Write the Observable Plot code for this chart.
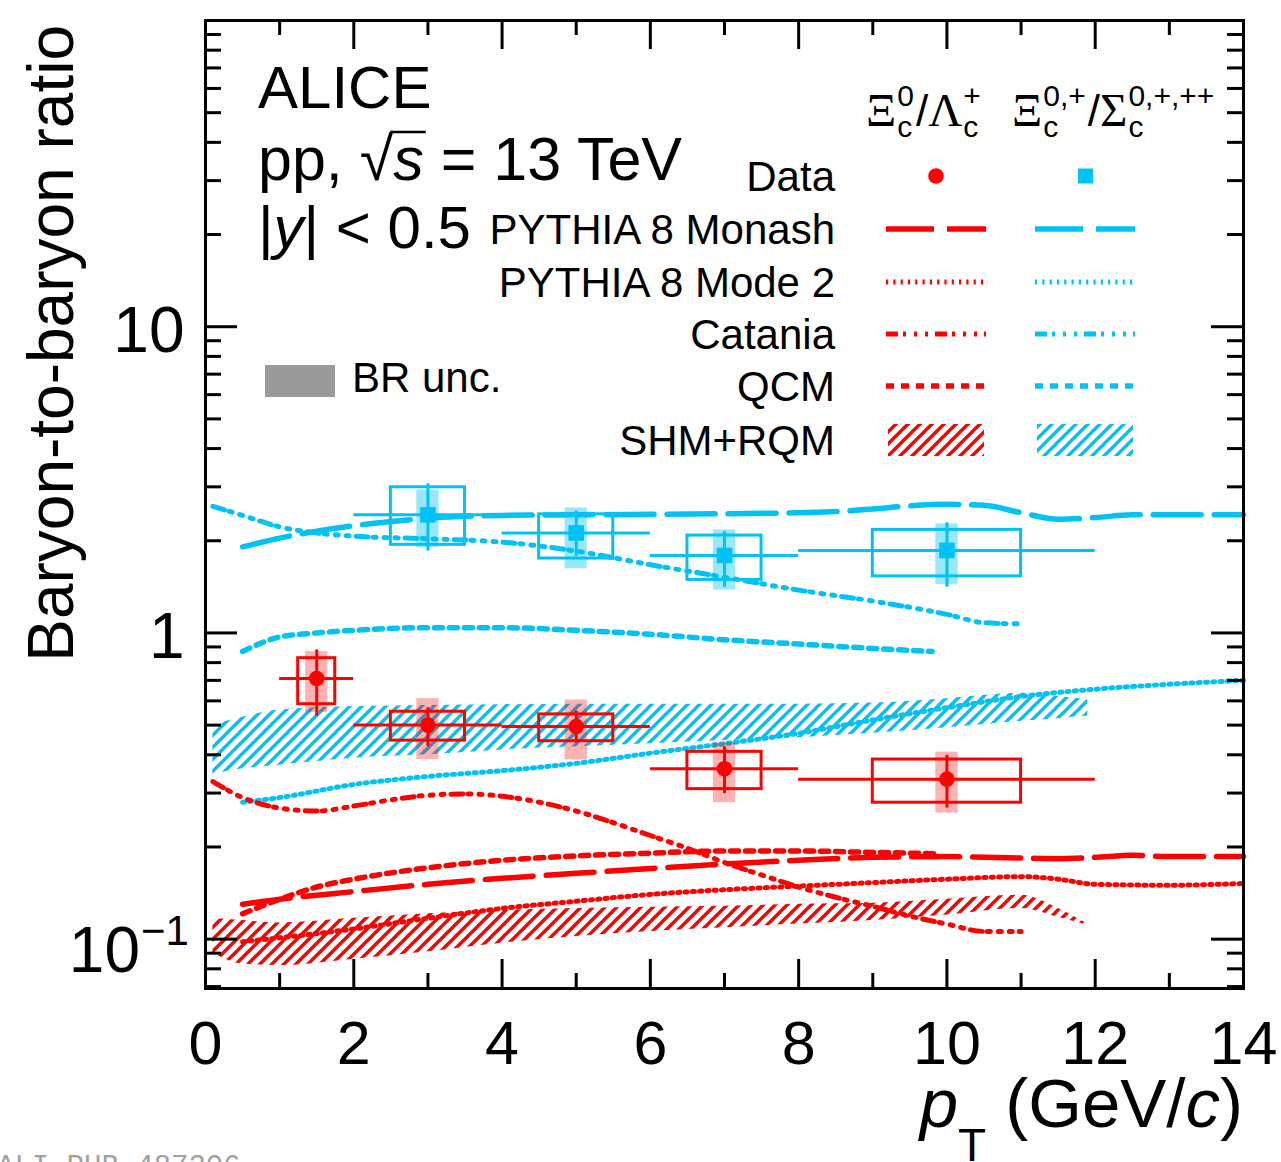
<!DOCTYPE html>
<html><head><meta charset="utf-8">
<script src="https://cdn.jsdelivr.net/npm/d3@7"></script>
<script src="https://cdn.jsdelivr.net/npm/@observablehq/plot@0.6"></script>
<style>html,body{margin:0;padding:0;background:#fff}svg{display:block}</style>
</head><body><div id="chart"></div>
<script>
// ---------- data: Xi_c^0 / Lambda_c^+ (red) ----------
const xiLcX = [1.5, 3, 5, 7, 10];
const xiLcBinLo = [1, 2, 4, 6, 8];
const xiLcBinHi = [2, 4, 6, 8, 12];
const xiLcY = [0.71, 0.50, 0.495, 0.36, 0.333];
const xiLcStatLo = [0.535, 0.425, 0.437, 0.299, 0.268];
const xiLcStatHi = [0.88, 0.57, 0.556, 0.425, 0.398];
const xiLcSysLo = [0.585, 0.445, 0.443, 0.309, 0.279];
const xiLcSysHi = [0.827, 0.553, 0.542, 0.409, 0.386];
const xiLcBrLo = [0.549, 0.386, 0.385, 0.279, 0.258];
const xiLcBrHi = [0.869, 0.610, 0.604, 0.437, 0.408];

// ---------- data: Xi_c^{0,+} / Sigma_c^{0,+,++} (blue) ----------
const xiScX = [3, 5, 7, 10];
const xiScBinLo = [2, 4, 6, 8];
const xiScBinHi = [4, 6, 8, 12];
const xiScY = [2.43, 2.12, 1.79, 1.86];
const xiScStatLo = [1.85, 1.78, 1.41, 1.41];
const xiScStatHi = [3.07, 2.50, 2.14, 2.29];
const xiScSysLo = [1.94, 1.75, 1.49, 1.53];
const xiScSysHi = [2.99, 2.44, 2.08, 2.17];
const xiScBrLo = [1.90, 1.62, 1.38, 1.44];
const xiScBrHi = [2.93, 2.56, 2.17, 2.27];

// ---------- models: red ----------
const lcMonashX = [0.5, 1, 2, 3, 4, 5, 6, 7, 8, 9, 10, 11, 11.5, 12, 12.5, 13, 14];
const lcMonashY = [0.130, 0.135, 0.143, 0.151, 0.158, 0.164, 0.170, 0.176, 0.181, 0.185, 0.186, 0.184, 0.183, 0.185, 0.188, 0.186, 0.186];
const lcMode2X = [0.5, 1, 2, 3, 4, 5, 6, 7, 8, 9, 10, 11, 11.5, 12, 13, 14];
const lcMode2Y = [0.098, 0.101, 0.108, 0.117, 0.126, 0.133, 0.140, 0.145, 0.149, 0.153, 0.157, 0.160, 0.157, 0.151, 0.150, 0.152];
const lcCataniaX = [0.1, 0.5, 1, 1.5, 2, 2.5, 3, 3.5, 4, 4.5, 5, 5.5, 6, 6.5, 7, 7.5, 8, 8.5, 9, 9.5, 10, 10.5, 11];
const lcCataniaY = [0.327, 0.29, 0.268, 0.262, 0.272, 0.285, 0.295, 0.298, 0.293, 0.28, 0.262, 0.24, 0.218, 0.198, 0.178, 0.162, 0.148, 0.137, 0.128, 0.119, 0.112, 0.106, 0.106];
const lcQcmX = [0.5, 1, 1.5, 2, 3, 4, 5, 6, 7, 8, 9, 9.9];
const lcQcmY = [0.121, 0.135, 0.148, 0.157, 0.171, 0.181, 0.187, 0.191, 0.194, 0.194, 0.192, 0.190];
const lcShmX = [0.1, 0.5, 1, 2, 3, 4, 5, 6, 7, 8, 9, 10, 11, 11.5, 11.9];
const lcShmLo = [0.090, 0.083, 0.082, 0.086, 0.091, 0.097, 0.102, 0.106, 0.109, 0.112, 0.115, 0.120, 0.126, 0.118, 0.111];
const lcShmHi = [0.117, 0.115, 0.113, 0.117, 0.121, 0.124, 0.126, 0.127, 0.128, 0.130, 0.131, 0.135, 0.139, 0.126, 0.112];

// ---------- models: blue ----------
const scMonashX = [0.5, 1, 1.5, 2, 2.5, 3, 4, 5, 6, 7, 8, 8.5, 9, 9.5, 10, 10.5, 11, 11.5, 12, 12.5, 13, 14];
const scMonashY = [1.91, 2.04, 2.15, 2.24, 2.31, 2.37, 2.42, 2.43, 2.44, 2.45, 2.47, 2.49, 2.54, 2.60, 2.63, 2.61, 2.47, 2.35, 2.38, 2.43, 2.43, 2.43];
const scMode2X = [0.5, 1, 2, 3, 4, 5, 6, 7, 8, 9, 10, 11, 12, 13, 14];
const scMode2Y = [0.28, 0.29, 0.32, 0.34, 0.355, 0.375, 0.405, 0.435, 0.47, 0.52, 0.57, 0.62, 0.655, 0.68, 0.70];
const scCataniaX = [0.1, 0.5, 1, 1.5, 2, 3, 4, 5, 6, 7, 8, 9, 10, 10.5, 11];
const scCataniaY = [2.59, 2.42, 2.22, 2.12, 2.07, 2.03, 1.98, 1.85, 1.67, 1.52, 1.38, 1.27, 1.15, 1.08, 1.07];
const scQcmX = [0.5, 1, 1.5, 2, 3, 4, 5, 6, 7, 8, 9, 9.8];
const scQcmY = [0.87, 0.97, 1.0, 1.02, 1.04, 1.04, 1.02, 0.99, 0.95, 0.92, 0.89, 0.87];
const scShmX = [0.1, 0.5, 1, 2, 3, 4, 5, 6, 7, 8, 9, 10, 11, 11.5, 11.9];
const scShmLo = [0.345, 0.36, 0.37, 0.39, 0.40, 0.415, 0.425, 0.435, 0.445, 0.455, 0.47, 0.49, 0.515, 0.525, 0.535];
const scShmHi = [0.50, 0.53, 0.56, 0.575, 0.58, 0.583, 0.585, 0.585, 0.585, 0.585, 0.59, 0.61, 0.635, 0.62, 0.605];

// ---------- axes ----------
const xMajorTicks = [0, 2, 4, 6, 8, 10, 12, 14];
const xMinorTicks = [1, 3, 5, 7, 9, 11, 13];
const yMajorTicks = [0.1, 1, 10, 100];
const yMinorTicks = [0.07, 0.08, 0.09, 0.2, 0.3, 0.4, 0.5, 0.6, 0.7, 0.8, 0.9, 2, 3, 4, 5, 6, 7, 8, 9, 20, 30, 40, 50, 60, 70, 80, 90];
const xTickLabels = ["0", "2", "4", "6", "8", "10", "12", "14"];

const legendRows = ["Data", "PYTHIA 8 Monash", "PYTHIA 8 Mode 2", "Catania", "QCM", "SHM+RQM"];

// ---------- styles ----------
const RED = "#ff0000", BLUE = "#00c2f5";
const FONT = "'Liberation Sans', Arial, Helvetica, sans-serif";
const W = 1281, H = 1162, ML = 205, MR = 38, MT = 20, MB = 174;
const PW = W - ML - MR, PH = H - MT - MB;
const dashes = {
  monash: {dash: "48 13", w: 5.5},
  mode2: {dash: "2.2 5.1", w: 5},
  catania: {dash: "12 5 3 8 3 8 3 7", w: 5},
  qcm: {dash: "8 7", w: 5.5}
};

function rows(xs, ys) { return xs.map((x, i) => ({x, y: ys[i]})); }
function band(xs, lo, hi) { return xs.map((x, i) => ({x, lo: lo[i], hi: hi[i]})); }
function pts(X, Y, bl, bh, sl, sh, tl, th, rl, rh) {
  return X.map((x, i) => ({x, y: Y[i], bl: bl[i], bh: bh[i], sl: sl[i], sh: sh[i], tl: tl[i], th: th[i], rl: rl[i], rh: rh[i], hw: (bh[i] - bl[i]) / 4}));
}
const lcPts = pts(xiLcX, xiLcY, xiLcBinLo, xiLcBinHi, xiLcStatLo, xiLcStatHi, xiLcSysLo, xiLcSysHi, xiLcBrLo, xiLcBrHi);
const scPts = pts(xiScX, xiScY, xiScBinLo, xiScBinHi, xiScStatLo, xiScStatHi, xiScSysLo, xiScSysHi, xiScBrLo, xiScBrHi);

function modelLine(data, color, st) {
  return Plot.line(data, {x: "x", y: "y", stroke: color, strokeWidth: st.w, strokeDasharray: st.dash, curve: "monotone-x"});
}
function dataMarks(P, color, brOpacity, symbol, r) {
  return [
    Plot.rect(P, {x1: d => d.x - 0.15, x2: d => d.x + 0.15, y1: "rl", y2: "rh", fill: color, fillOpacity: brOpacity}),
    Plot.rect(P, {x1: d => d.x - d.hw, x2: d => d.x + d.hw, y1: "tl", y2: "th", fill: "none", stroke: color, strokeWidth: 3}),
    Plot.ruleY(P, {y: "y", x1: "bl", x2: "bh", stroke: color, strokeWidth: 3}),
    Plot.ruleX(P, {x: "x", y1: "sl", y2: "sh", stroke: color, strokeWidth: 3}),
    Plot.dot(P, {x: "x", y: "y", fill: color, stroke: "none", symbol, r})
  ];
}

const plot = Plot.plot({
  width: W, height: H,
  marginLeft: ML, marginRight: MR, marginTop: MT, marginBottom: MB,
  x: {domain: [0, 14], axis: null},
  y: {type: "log", domain: [0.069, 100], axis: null},
  style: {fontFamily: FONT, background: "white", color: "black", overflow: "visible"},
  marks: [
    Plot.areaY(band(scShmX, scShmLo, scShmHi), {x: "x", y1: "lo", y2: "hi", fill: "url(#hatchBlue)", curve: "monotone-x"}),
    Plot.areaY(band(lcShmX, lcShmLo, lcShmHi), {x: "x", y1: "lo", y2: "hi", fill: "url(#hatchRed)", curve: "monotone-x"}),
    modelLine(rows(scMonashX, scMonashY), BLUE, dashes.monash),
    modelLine(rows(scMode2X, scMode2Y), BLUE, dashes.mode2),
    modelLine(rows(scCataniaX, scCataniaY), BLUE, dashes.catania),
    modelLine(rows(scQcmX, scQcmY), BLUE, dashes.qcm),
    modelLine(rows(lcMonashX, lcMonashY), RED, dashes.monash),
    modelLine(rows(lcMode2X, lcMode2Y), RED, dashes.mode2),
    modelLine(rows(lcCataniaX, lcCataniaY), RED, dashes.catania),
    modelLine(rows(lcQcmX, lcQcmY), RED, dashes.qcm),
    ...dataMarks(scPts, BLUE, 0.4, "square", 8.8),
    ...dataMarks(lcPts, RED, 0.3, "circle", 7.8),
    // ticks (inward, all four sides)
    Plot.tickX(xMajorTicks, {x: d => d, insetTop: PH - 29, stroke: "black", strokeWidth: 3}),
    Plot.tickX(xMinorTicks, {x: d => d, insetTop: PH - 15, stroke: "black", strokeWidth: 3}),
    Plot.tickX(xMajorTicks, {x: d => d, insetBottom: PH - 29, stroke: "black", strokeWidth: 3}),
    Plot.tickX(xMinorTicks, {x: d => d, insetBottom: PH - 15, stroke: "black", strokeWidth: 3}),
    Plot.tickY(yMajorTicks, {y: d => d, insetRight: PW - 32, stroke: "black", strokeWidth: 3}),
    Plot.tickY(yMinorTicks, {y: d => d, insetRight: PW - 16, stroke: "black", strokeWidth: 3}),
    Plot.tickY(yMajorTicks, {y: d => d, insetLeft: PW - 32, stroke: "black", strokeWidth: 3}),
    Plot.tickY(yMinorTicks, {y: d => d, insetLeft: PW - 16, stroke: "black", strokeWidth: 3}),
    Plot.frame({stroke: "black", strokeWidth: 3}),
    // x tick labels
    Plot.text(xMajorTicks, {x: d => d, text: (d, i) => xTickLabels[i], frameAnchor: "bottom", lineAnchor: "bottom", dy: 75, fontSize: 61, fill: "black"}),
    // y tick labels 10 and 1
    Plot.text([10, 1], {y: d => d, text: d => String(d), frameAnchor: "left", textAnchor: "end", lineAnchor: "bottom", dx: -21, dy: 25, fontSize: 64, fill: "black"})
  ]
});
document.getElementById("chart").appendChild(plot);

// ---------- decorations ----------
const svg = d3.select(plot);
const defs = svg.insert("defs", ":first-child");
function hatch(id, color) {
  const p = defs.append("pattern").attr("id", id).attr("patternUnits", "userSpaceOnUse").attr("width", 12).attr("height", 12);
  p.append("path").attr("d", "M-3,3 L3,-3 M0,12 L12,0 M9,15 L15,9").attr("stroke", color).attr("stroke-width", 3.4).attr("fill", "none");
}
hatch("hatchRed", RED);
hatch("hatchBlue", BLUE);

const g = svg.append("g");
function txt(x, y, str, o = {}) {
  const t = g.append("text").attr("x", x).attr("y", y).attr("font-size", o.size || 42)
    .attr("text-anchor", o.anchor || "start").attr("fill", o.fill || "black").attr("font-family", o.family || FONT);
  if (o.style) t.attr("font-style", o.style);
  if (str != null) t.text(str);
  return t;
}

// y label 10^-1
const yS = plot.scale("y");
const y01 = yS.apply(0.1);
txt(140, y01 + 33, "10", {size: 64, anchor: "end"});
txt(141, y01 + 6, "\u22121", {size: 42});

// y axis title
g.append("text").attr("transform", "translate(73,25) rotate(-90)").attr("text-anchor", "end")
  .attr("font-size", 64).attr("font-family", FONT).text("Baryon-to-baryon ratio");

// x axis title
const xt = txt(1243, 1127, null, {size: 69, anchor: "end"});
xt.append("tspan").attr("font-style", "italic").text("p");
xt.append("tspan").attr("font-size", 46).attr("dy", 34).text("T");
xt.append("tspan").attr("dy", -34).text(" (GeV/");
xt.append("tspan").attr("font-style", "italic").text("c");
xt.append("tspan").text(")");

// ALICE block
txt(258, 108, "ALICE", {size: 60});
const t2 = txt(258, 180, null, {size: 61});
t2.append("tspan").text("pp, \u221A");
t2.append("tspan").attr("font-style", "italic").text("s");
t2.append("tspan").text(" = 13 TeV");
{
  const n = t2.node();
  const b = n.getEndPositionOfChar(5).x;
  const rw = n.getEndPositionOfChar(4).x;
  g.append("line").attr("x1", rw - 3).attr("x2", b + 2).attr("y1", 180 - 48).attr("y2", 180 - 48)
    .attr("stroke", "black").attr("stroke-width", 2.5);
}
const t3 = txt(258, 248, null, {size: 60});
t3.append("tspan").text("|");
t3.append("tspan").attr("font-style", "italic").text("y");
t3.append("tspan").text("| < 0.5");

// BR unc.
g.append("rect").attr("x", 265).attr("y", 365).attr("width", 70).attr("height", 32).attr("fill", "#999999");
txt(352, 392, "BR unc.", {size: 42});

// legend header
function ratioLabel(x0, base, parts) {
  let x = x0;
  parts.forEach(p => {
    const m = txt(x, base, p.main, {size: p.serif ? 47 : 44, family: p.serif ? "'Liberation Serif', 'DejaVu Serif', serif" : FONT});
    x += m.node().getComputedTextLength();
    if (p.sup || p.sub) {
      let w = 0;
      if (p.sup) { const s = txt(x + 1, base - 20, p.sup, {size: 30}); w = Math.max(w, s.node().getComputedTextLength()); }
      if (p.sub) { const s = txt(x + 1, base + 11, p.sub, {size: 30}); w = Math.max(w, s.node().getComputedTextLength()); }
      x += w + 3;
    }
  });
}
ratioLabel(866, 126, [{main: "\u039E", serif: true, sup: "0", sub: "c"}, {main: "/"}, {main: "\u039B", serif: true, sup: "+", sub: "c"}]);
ratioLabel(1012, 126, [{main: "\u039E", serif: true, sup: "0,+", sub: "c"}, {main: "/"}, {main: "\u03A3", serif: true, sup: "0,+,++", sub: "c"}]);

// legend rows
const rowY = [176, 229, 282, 334, 386, 440];
legendRows.forEach((r, i) => txt(835, rowY[i] + 15, r, {size: 42, anchor: "end"}));
g.append("circle").attr("cx", 936).attr("cy", rowY[0]).attr("r", 7.8).attr("fill", RED);
g.append("rect").attr("x", 1078).attr("y", rowY[0] - 7.5).attr("width", 15).attr("height", 15).attr("fill", BLUE);
const lineKeys = ["monash", "mode2", "catania", "qcm"];
lineKeys.forEach((k, i) => {
  [[886, 986, RED], [1035, 1135, BLUE]].forEach(([a, b, c]) => {
    g.append("line").attr("x1", a).attr("x2", b).attr("y1", rowY[i + 1]).attr("y2", rowY[i + 1])
      .attr("stroke", c).attr("stroke-width", dashes[k].w).attr("stroke-dasharray", dashes[k].dash);
  });
});
g.append("rect").attr("x", 888).attr("y", 424).attr("width", 96).attr("height", 32).attr("fill", "url(#hatchRed)");
g.append("rect").attr("x", 1037).attr("y", 424).attr("width", 96).attr("height", 32).attr("fill", "url(#hatchBlue)");

// publication id (cut at page bottom)
txt(-3, 1175, "ALI-PUB-487306", {size: 29, family: "'Liberation Mono', 'DejaVu Sans Mono', monospace", fill: "#a0a0a0"});
</script>
</body></html>
